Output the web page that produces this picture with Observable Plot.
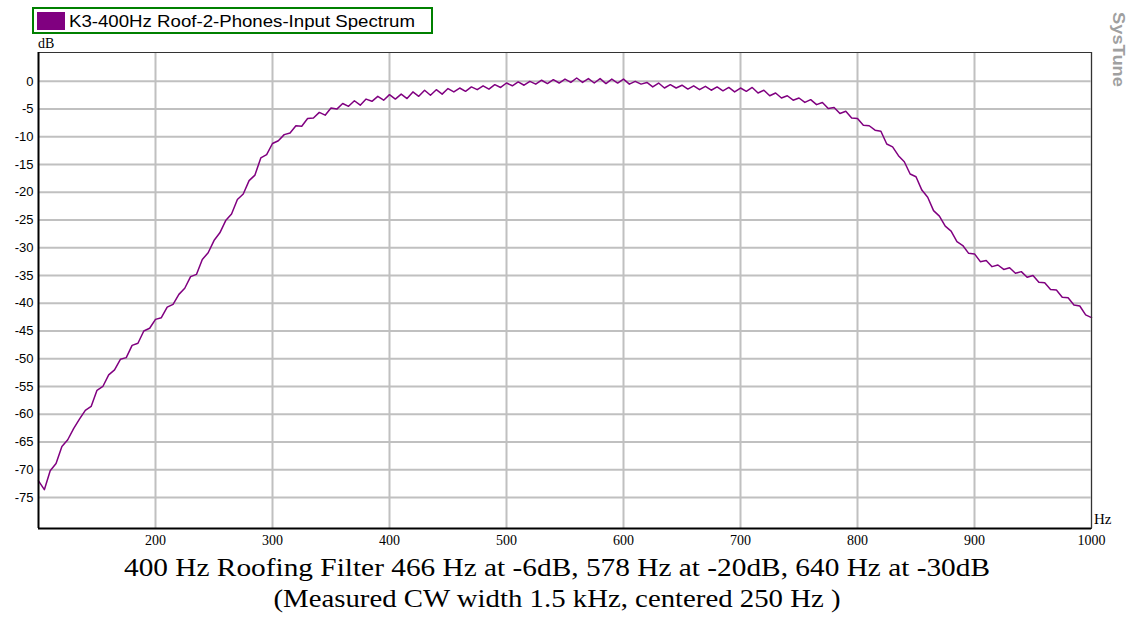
<!DOCTYPE html>
<html>
<head>
<meta charset="utf-8">
<script src="https://cdn.jsdelivr.net/npm/d3@7"></script>
<script src="https://cdn.jsdelivr.net/npm/@observablehq/plot@0.6"></script>
<style>
  html, body { margin: 0; padding: 0; background: #ffffff; }
  #chart { width: 1134px; height: 618px; }
</style>
</head>
<body>
<div id="chart"></div>
<script>
const seriesName = "K3-400Hz Roof-2-Phones-Input Spectrum";
const captionLines = [
  "400 Hz Roofing Filter 466 Hz at -6dB, 578 Hz at -20dB, 640 Hz at -30dB",
  "(Measured CW width 1.5 kHz, centered 250 Hz )"
];
const xTicks = [200, 300, 400, 500, 600, 700, 800, 900, 1000];
const yTicks = [0, -5, -10, -15, -20, -25, -30, -35, -40, -45, -50, -55, -60, -65, -70, -75];

const freqHz = [
  100,105,110,115,120,125,130,135,140,145,150,155,160,165,170,175,180,185,190,195,
  200,205,210,215,220,225,230,235,240,245,250,255,260,265,270,275,280,285,290,295,
  300,305,310,315,320,325,330,335,340,345,350,355,360,365,370,375,380,385,390,395,
  400,405,410,415,420,425,430,435,440,445,450,455,460,465,470,475,480,485,490,495,
  500,505,510,515,520,525,530,535,540,545,550,555,560,565,570,575,580,585,590,595,
  600,605,610,615,620,625,630,635,640,645,650,655,660,665,670,675,680,685,690,695,
  700,705,710,715,720,725,730,735,740,745,750,755,760,765,770,775,780,785,790,795,
  800,805,810,815,820,825,830,835,840,845,850,855,860,865,870,875,880,885,890,895,
  900,905,910,915,920,925,930,935,940,945,950,955,960,965,970,975,980,985,990,995,
  1000
];
const levelDb = [
  -72.0,-73.6,-70.2,-68.9,-65.8,-64.6,-62.6,-60.9,-59.3,-58.6,-55.7,-55.0,-52.9,-52.0,-50.1,-49.8,-47.6,-47.2,-45.0,-44.5,
  -42.9,-42.6,-40.7,-40.2,-38.4,-37.3,-35.2,-34.8,-32.1,-30.9,-28.7,-27.3,-25.1,-23.9,-21.3,-20.3,-17.9,-16.9,-13.8,-13.2,
  -11.2,-10.7,-9.6,-9.3,-8.0,-8.1,-6.7,-6.6,-5.6,-6.1,-4.8,-5.0,-4.0,-4.5,-3.5,-4.3,-3.2,-3.6,-2.7,-3.4,
  -2.4,-3.2,-2.3,-3.1,-1.9,-2.7,-1.6,-2.5,-1.5,-2.3,-1.3,-1.9,-1.2,-1.8,-1.0,-1.5,-0.8,-1.4,-0.6,-1.1,
  -0.3,-0.8,-0.1,-0.7,0.0,-0.5,0.2,-0.4,0.3,-0.3,0.4,-0.2,0.6,-0.2,0.5,-0.3,0.5,-0.4,0.4,-0.3,
  0.4,-0.5,0.0,-0.5,-0.2,-1.0,-0.3,-1.2,-0.6,-1.2,-0.7,-1.4,-0.8,-1.5,-0.9,-1.6,-1.0,-1.7,-1.1,-1.9,
  -1.2,-1.8,-1.1,-2.1,-1.6,-2.6,-2.1,-3.0,-2.6,-3.4,-3.0,-3.8,-3.3,-4.2,-3.8,-4.9,-4.7,-5.8,-5.4,-6.6,
  -6.7,-7.9,-8.0,-8.8,-9.0,-11.3,-11.8,-13.4,-14.5,-16.7,-17.2,-19.6,-20.9,-23.3,-24.3,-26.1,-27.0,-28.9,-29.6,-31.0,
  -31.1,-32.5,-32.3,-33.4,-33.1,-33.9,-33.6,-34.6,-34.3,-35.3,-35.0,-36.2,-36.3,-37.5,-37.6,-38.9,-39.0,-40.3,-40.5,-42.1,
  -42.6
];

const data = freqHz.map((f, i) => ({f, db: levelDb[i]}));

const purple = "#800080";
const gridColor = "#c0c0c0";
const sans = "'Liberation Sans', Arial, sans-serif";
const serif = "'Liberation Serif', 'Times New Roman', serif";

const xMin = 100, xMax = 1000, yMin = -80.6, yMax = 5.2;

const chart = Plot.plot({
  width: 1134,
  height: 618,
  marginLeft: 38,
  marginRight: 43,
  marginTop: 52,
  marginBottom: 90,
  style: {background: "#ffffff", overflow: "visible"},
  x: {domain: [xMin, xMax]},
  y: {domain: [yMin, yMax]},
  marks: [
    Plot.gridX(xTicks, {stroke: gridColor, strokeOpacity: 1, strokeWidth: 2}),
    Plot.gridY(yTicks, {stroke: gridColor, strokeOpacity: 1, strokeWidth: 2}),
    Plot.line(data, {x: "f", y: "db", stroke: purple, strokeWidth: 1.5}),
    Plot.frame({stroke: "#333", strokeWidth: 1}),
    Plot.ruleX([xMin], {stroke: "#000", strokeWidth: 2}),
    Plot.ruleY([yMin], {stroke: "#000", strokeWidth: 2}),
    Plot.axisY(yTicks, {tickSize: 0, tickPadding: 5, label: null, tickFormat: d => String(d),
      fontSize: 13, fontFamily: sans, fill: "#000"}),
    Plot.axisX(xTicks, {tickSize: 0, tickPadding: 7, label: null, tickFormat: d => String(d),
      fontSize: 14, fontFamily: serif, fill: "#000"})
  ]
});

document.getElementById("chart").appendChild(chart);

const svg = d3.select(chart);

// legend box
const lg = svg.append("g").attr("text-anchor", "start");
lg.append("rect").attr("x", 33).attr("y", 8).attr("width", 399).attr("height", 25)
  .attr("fill", "#ffffff").attr("stroke", "#008000").attr("stroke-width", 2);
lg.append("rect").attr("x", 37).attr("y", 12).attr("width", 28).attr("height", 18)
  .attr("fill", purple);
lg.append("text").attr("x", 69).attr("y", 27).attr("text-anchor", "start").attr("font-family", sans)
  .attr("font-size", 17).attr("fill", "#000")
  .attr("textLength", 346).attr("lengthAdjust", "spacingAndGlyphs").text(seriesName);

// axis unit labels
svg.append("text").attr("x", 38).attr("y", 48).attr("text-anchor", "start").attr("font-family", serif)
  .attr("font-size", 14).attr("fill", "#000").text("dB");
svg.append("text").attr("x", 1094).attr("y", 524).attr("text-anchor", "start").attr("font-family", serif)
  .attr("font-size", 15).attr("fill", "#000").text("Hz");

// watermark
svg.append("text").attr("transform", "translate(1113,12) rotate(90)").attr("text-anchor", "start")
  .attr("font-family", sans).attr("font-size", 17).attr("font-weight", "bold")
  .attr("fill", "#a0a0a0").attr("textLength", 75).attr("lengthAdjust", "spacingAndGlyphs")
  .text("SysTune");

// caption
const capWidths = [866, 567];
captionLines.forEach((t, i) => {
  svg.append("text").attr("x", 557).attr("y", 576 + i * 31).attr("text-anchor", "middle")
    .attr("font-family", serif).attr("font-size", 26).attr("fill", "#000")
    .attr("textLength", capWidths[i]).attr("lengthAdjust", "spacingAndGlyphs").text(t);
});
</script>
</body>
</html>
